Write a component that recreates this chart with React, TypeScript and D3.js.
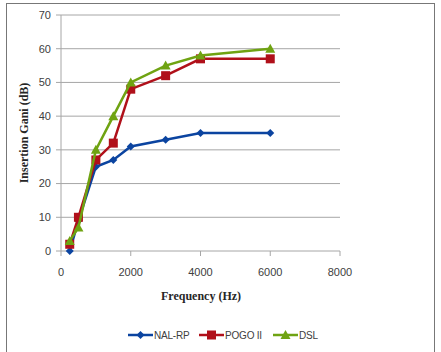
import React from "react";
import * as d3 from "d3";

const frequencies = [250, 500, 1000, 1500, 2000, 3000, 4000, 6000];
const nalRp = [0, 9, 25, 27, 31, 33, 35, 35];
const pogoII = [2, 10, 27, 32, 48, 52, 57, 57];
const dsl = [3, 7, 30, 40, 50, 55, 58, 60];
const xTicks = [0, 2000, 4000, 6000, 8000];
const yTicks = [0, 10, 20, 30, 40, 50, 60, 70];

const seriesNames = ["NAL-RP", "POGO II", "DSL"];
const seriesValues = [nalRp, pogoII, dsl];
const seriesColors = ["#0B44A0", "#B0101A", "#6FA312"];
const seriesMarkers = ["diamond", "square", "triangle"];

const W = 441;
const H = 352;

function Marker({ kind, x, y, color }: { kind: string; x: number; y: number; color: string }) {
  if (kind === "diamond") {
    const s = 4;
    return <path d={`M${x},${y - s}L${x + s},${y}L${x},${y + s}L${x - s},${y}Z`} fill={color} />;
  }
  if (kind === "square") {
    const s = 4.5;
    return <rect x={x - s} y={y - s} width={2 * s} height={2 * s} fill={color} />;
  }
  const s = 5;
  return <path d={`M${x},${y - s}L${x + s},${y + s * 0.8}L${x - s},${y + s * 0.8}Z`} fill={color} />;
}

export default function App() {
  const x = d3.scaleLinear().domain([0, 8000]).range([61, 340]);
  const y = d3.scaleLinear().domain([0, 70]).range([251, 15]);
  const line = d3
    .line<number>()
    .x((_, i) => x(frequencies[i]))
    .y((d) => y(d));

  const legendX = [128, 199, 273];

  return (
    <svg
      width={W}
      height={H}
      style={{ position: "absolute", left: 0, top: 0 }}
      fontFamily="'Liberation Sans', Arial, sans-serif"
    >
      <rect x={0} y={0} width={W} height={H} fill="#fff" />
      <rect x={6.5} y={3.5} width={428} height={352} fill="none" stroke="#777" strokeWidth={1} />

      {yTicks.map((t) => (
        <g key={t}>
          {t > 0 && (
            <line x1={x(0)} x2={x(8000)} y1={y(t)} y2={y(t)} stroke="#a6a6a6" strokeWidth={1} />
          )}
          <line x1={x(0) - 5} x2={x(0)} y1={y(t)} y2={y(t)} stroke="#a6a6a6" />
          <text x={x(0) - 10} y={y(t)} dy="0.35em" textAnchor="end" fontSize={11} fill="#404040">
            {t}
          </text>
        </g>
      ))}
      <line x1={x(0)} x2={x(0)} y1={y(70)} y2={y(0)} stroke="#a6a6a6" />
      <line x1={x(0)} x2={x(8000)} y1={y(0)} y2={y(0)} stroke="#a6a6a6" />
      {xTicks.map((t) => (
        <g key={t}>
          <line x1={x(t)} x2={x(t)} y1={y(0)} y2={y(0) + 5} stroke="#a6a6a6" />
          <text x={x(t)} y={y(0) + 21} dy="0.35em" textAnchor="middle" fontSize={11} fill="#404040">
            {t}
          </text>
        </g>
      ))}

      <text
        x={201}
        y={300}
        textAnchor="middle"
        fontSize={12}
        fontWeight="bold"
        fontFamily="'Liberation Serif', 'Times New Roman', serif"
        fill="#262626"
      >
        Frequency (Hz)
      </text>
      <text
        transform={`translate(28,${(y(0) + y(70)) / 2}) rotate(-90)`}
        textAnchor="middle"
        fontSize={12}
        fontWeight="bold"
        fontFamily="'Liberation Serif', 'Times New Roman', serif"
        fill="#262626"
      >
        Insertion Gani (dB)
      </text>

      {seriesValues.map((vals, si) => (
        <g key={seriesNames[si]}>
          <path d={line(vals) || ""} fill="none" stroke={seriesColors[si]} strokeWidth={2.5} />
          {vals.map((v, i) => (
            <Marker
              key={i}
              kind={seriesMarkers[si]}
              x={x(frequencies[i])}
              y={y(v)}
              color={seriesColors[si]}
            />
          ))}
        </g>
      ))}

      {seriesNames.map((name, si) => (
        <g key={name} transform={`translate(${legendX[si]},335)`}>
          <line x1={0} x2={25} y1={0} y2={0} stroke={seriesColors[si]} strokeWidth={2.5} />
          <Marker kind={seriesMarkers[si]} x={12.5} y={0} color={seriesColors[si]} />
          <text x={26} y={0} dy="0.35em" fontSize={10} fill="#404040" letterSpacing={-0.2}>
            {name}
          </text>
        </g>
      ))}
    </svg>
  );
}
